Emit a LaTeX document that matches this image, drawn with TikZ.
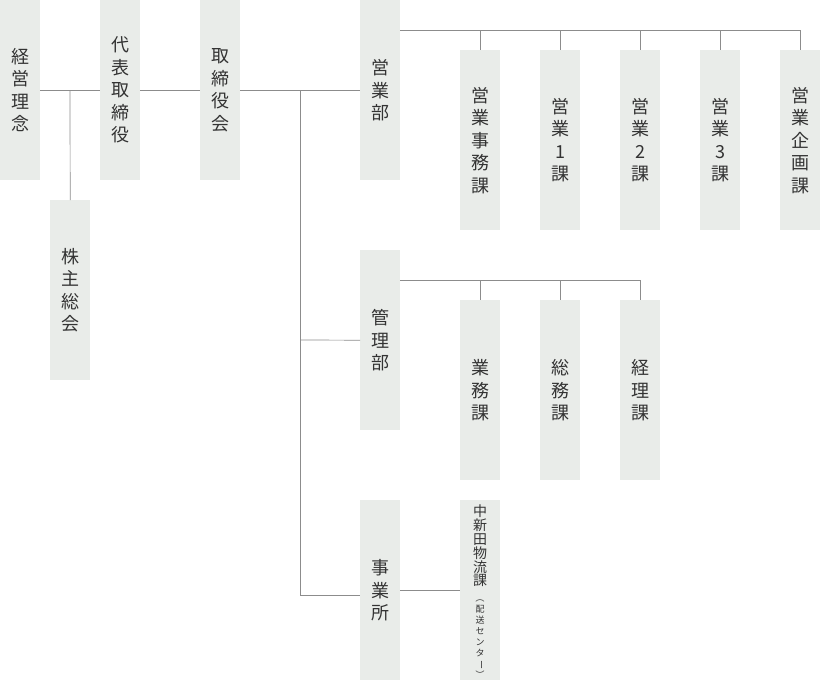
\documentclass[tikz,border=0pt]{standalone}
\usepackage{fontspec}
\setmainfont{Noto Sans CJK JP}
\begin{document}
\begin{tikzpicture}[x=1pt,y=-1pt,
  bx/.style={fill=boxc,draw=none,minimum width=40pt,minimum height=180pt,anchor=north west,inner sep=0pt,align=center,font=\fontsize{18}{22.5}\selectfont,text=black!80},
  ln/.style={draw=black!45,line width=0.7pt}]
\definecolor{boxc}{HTML}{E9ECE9}
\useasboundingbox (0,0) rectangle (820,680);
\node[bx] (keiei) at (0,0) {経\\営\\理\\念};
\node[bx] (kabu) at (50,200) {株\\主\\総\\会};
\node[bx] (daihyo) at (100,0) {代\\表\\取\\締\\役};
\node[bx] (torishi) at (200,0) {取\\締\\役\\会};
\node[bx] (eigyo) at (360,0) {営\\業\\部};
\node[bx] (e1) at (460,50) {営\\業\\事\\務\\課};
\node[bx] (e2) at (540,50) {営\\業\\1\\課};
\node[bx] (e3) at (620,50) {営\\業\\2\\課};
\node[bx] (e4) at (700,50) {営\\業\\3\\課};
\node[bx] (e5) at (780,50) {営\\業\\企\\画\\課};
\node[bx] (kanri) at (360,250) {管\\理\\部};
\node[bx] (k1) at (460,300) {業\\務\\課};
\node[bx] (k2) at (540,300) {総\\務\\課};
\node[bx] (k3) at (620,300) {経\\理\\課};
\node[bx] (jigyo) at (360,500) {事\\業\\所};
\node[bx,align=center] (naka) at (460,500) {};
\node[align=center,inner sep=0pt,anchor=north,font=\fontsize{14}{13.8}\selectfont,text=black!80] (nakat) at (480,505) {中\\新\\田\\物\\流\\課};
\node[align=center,inner sep=0pt,anchor=north,font=\fontsize{9}{11}\selectfont,text=black!80] (nakas) at (480,593) {\rotatebox[origin=c]{-90}{（}\\配\\送\\セ\\ン\\タ\\\rotatebox[origin=c]{-90}{ー}\\\rotatebox[origin=c]{-90}{）}};
% lines
\coordinate (j1) at (70,90);
\draw[ln] (keiei.east) -- (daihyo.west);
\draw[ln] (j1) -- (kabu.north);
\draw[ln] (daihyo.east) -- (torishi.west);
\draw[ln] (torishi.east) -- (eigyo.west);
\coordinate (v1) at (300,90);
\coordinate (v2) at (300,595);
\draw[ln] (v1) -- (v2) -- (v2-|jigyo.west);
\draw[ln] (300,340) -- (kanri.west);
\draw[ln] (400,30) -- (800,30);
\foreach \n in {e1,e2,e3,e4,e5} \draw[ln] (\n.north|-0,30) -- (\n.north);
\draw[ln] (400,280) -- (640,280);
\foreach \n in {k1,k2,k3} \draw[ln] (\n.north|-0,280) -- (\n.north);
\draw[ln] (400,590) -- (460,590);
\end{tikzpicture}
\end{document}
